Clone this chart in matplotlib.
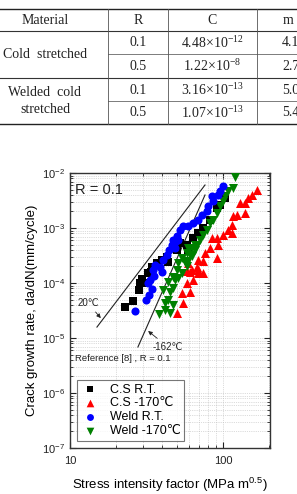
import numpy as np
import matplotlib.pyplot as plt
from matplotlib.lines import Line2D
from matplotlib.ticker import FixedLocator, FixedFormatter

plt.rcParams['font.family'] = ['Liberation Sans', 'DejaVu Sans']

# ---- table data ----
tab_material = ["Cold  stretched", "Welded  cold\nstretched"]
tab_R = ["0.1", "0.5", "0.1", "0.5"]
tab_C_mant = ["4.48", "1.22", "3.16", "1.07"]
tab_C_exp = ["-12", "-8", "-13", "-13"]
tab_m = ["4.10", "2.73", "5.03", "5.42"]

# ---- crack growth data: K (MPa m^0.5), da/dN (mm/cycle) ----
cs_rt_K = [22.9, 25.8, 28.2, 28.7, 30.0, 29.5, 32.3, 33.8, 34.3, 37.0, 39.9, 43.1, 43.7,
           50.0, 52.4, 58.2, 50.0, 59.0, 63.7, 68.7, 74.0, 82.2, 91.4, 95.6, 103]
cs_rt_da = [3.66e-5, 4.71e-5, 7.46e-5, 1.0e-4, 1.0e-4, 1.18e-4, 1.52e-4, 1.58e-4, 1.95e-4,
            2.31e-4, 2.62e-4, 2.97e-4, 2.41e-4, 4.33e-4, 5.33e-4, 4.91e-4, 3.98e-4, 3.82e-4,
            6.58e-4, 8.1e-4, 1.0e-3, 1.40e-3, 2.31e-3, 2.62e-3, 3.51e-3]

cs_lt_K = [50.0, 54.8, 54.0, 58.2, 60.8, 63.7, 60.8, 68.7, 59.0, 67.6, 58.2, 62.7, 68.7,
           74.0, 74.0, 68.7, 76.3, 82.2, 91.4, 84.8, 92.7, 91.4, 100, 115, 108, 115, 116,
           123, 139, 129, 139, 146, 155, 167]
cs_lt_da = [2.85e-5, 4.33e-5, 6.58e-5, 1.0e-4, 6.86e-5, 1.13e-4, 1.58e-4, 1.52e-4, 2.31e-4,
            1.95e-4, 1.65e-4, 1.72e-4, 1.72e-4, 1.52e-4, 2.51e-4, 2.62e-4, 3.51e-4, 4.33e-4,
            2.85e-4, 6.58e-4, 4.91e-4, 6.58e-4, 7.46e-4, 8.1e-4, 9.2e-4, 1.13e-3, 1.65e-3,
            1.72e-3, 1.87e-3, 2.85e-3, 2.85e-3, 3.51e-3, 3.98e-3, 4.91e-3]

w_rt_K = [26.6, 31.4, 32.8, 34.3, 32.3, 33.3, 35.4, 34.9, 35.9, 38.7, 39.9, 40.5, 43.1,
          44.4, 46.4, 48.6, 50.8, 50.0, 52.4, 54.8, 59.0, 63.7, 68.7, 72.9, 78.6, 79.8,
          86.0, 84.8, 92.7, 95.6, 100, 47.1, 48.6]
w_rt_da = [3.10e-5, 4.91e-5, 6.05e-5, 7.78e-5, 1.0e-4, 1.13e-4, 1.34e-4, 1.72e-4, 2.12e-4,
           1.95e-4, 1.58e-4, 2.62e-4, 3.23e-4, 3.98e-4, 4.91e-4, 5.56e-4, 6.05e-4, 7.16e-4,
           9.2e-4, 1.09e-3, 1.09e-3, 1.23e-3, 1.40e-3, 1.72e-3, 2.04e-3, 2.51e-3, 3.10e-3,
           3.82e-3, 3.98e-3, 4.71e-3, 5.8e-3, 6.05e-4, 4.33e-4]

w_lt_K = [38.2, 41.8, 45.0, 41.8, 43.7, 47.1, 40.5, 45.0, 47.1, 43.7, 48.6, 47.1, 50.0,
          50.8, 54.0, 56.4, 58.2, 60.8, 62.7, 59.0, 65.6, 50.8, 54.0, 58.2, 59.0, 62.7,
          65.6, 67.6, 70.7, 74.0, 78.6, 82.2, 86.0, 91.4, 95.6, 100, 103, 108, 116, 120]
w_lt_da = [2.73e-5, 3.23e-5, 2.85e-5, 4.33e-5, 4.91e-5, 3.98e-5, 7.46e-5, 6.86e-5, 8.1e-5,
           1.04e-4, 1.13e-4, 1.29e-4, 1.72e-4, 2.31e-4, 2.85e-4, 2.41e-4, 3.51e-4, 3.23e-4,
           4.33e-4, 4.33e-4, 4.91e-4, 1.23e-4, 1.52e-4, 2.04e-4, 2.51e-4, 3.10e-4, 3.98e-4,
           4.91e-4, 6.05e-4, 7.46e-4, 9.2e-4, 1.23e-3, 1.40e-3, 1.87e-3, 2.51e-3, 3.10e-3,
           3.82e-3, 4.71e-3, 5.33e-3, 8.46e-3]

# reference [8] lines
ref20_K = [15.0, 76.3]
ref20_da = [1.58e-5, 6.05e-3]
ref162_K = [27.8, 76.3]
ref162_da = [6.86e-6, 3.98e-3]

x_ticks = [10, 100]
x_ticklabels = ["10", "100"]

W, H = 297, 494
fig = plt.figure(figsize=(W / 100, H / 100), dpi=100)

# ---- table drawn in figure pixel coords ----
def fx(x): return x / W
def fy(y): return 1 - y / H

def hline(y, x0=0, x1=W, lw=0.8, c='#333333'):
    fig.add_artist(Line2D([fx(x0), fx(x1)], [fy(y), fy(y)], lw=lw, color=c))

def vline(x, y0, y1, lw=0.6, c='#555555'):
    fig.add_artist(Line2D([fx(x), fx(x)], [fy(y0), fy(y1)], lw=lw, color=c))

hline(9, lw=1.0, c='#222222')
hline(31)
hline(54, x0=108, lw=0.6, c='#666666')
hline(78)
hline(101, x0=108, lw=0.6, c='#666666')
hline(124, lw=1.0, c='#222222')
for xv in [108, 168, 257]:
    vline(xv, 9, 124)

tkw = dict(family='Liberation Serif', fontsize=10, ha='center', va='center', color='#222222')
fig.text(fx(45), fy(20), "Material", **tkw)
fig.text(fx(138), fy(20), "R", **tkw)
fig.text(fx(212), fy(20), "C", **tkw)
fig.text(fx(288), fy(20), "m", **tkw)
fig.text(fx(45), fy(55), tab_material[0], **tkw)
fig.text(fx(45), fy(101), tab_material[1], linespacing=1.35, **tkw)
row_y = [43, 66, 90, 113]
for i, ry in enumerate(row_y):
    fig.text(fx(138), fy(ry), tab_R[i], **tkw)
    fig.text(fx(212), fy(ry), tab_C_mant[i] + "\u00d710$^{\\mathregular{" + tab_C_exp[i] + "}}$", **tkw)
    fig.text(fx(282), fy(ry), tab_m[i], family='Liberation Serif', fontsize=10,
             ha='left', va='center', color='#222222')

# ---- chart ----
ax = fig.add_axes([70 / W, 1 - 448 / H, 200 / W, 275 / H])
ms = 34
ax.scatter(cs_rt_K, cs_rt_da, marker='s', c='black', s=ms, lw=0, label='C.S R.T.', zorder=3)
ax.scatter(cs_lt_K, cs_lt_da, marker='^', c='#ff0000', s=ms + 8, lw=0, label='C.S -170\u2103', zorder=3)
ax.scatter(w_rt_K, w_rt_da, marker='o', c='#0000ff', s=ms, lw=0, label='Weld R.T.', zorder=4)
ax.scatter(w_lt_K, w_lt_da, marker='v', c='#008000', s=ms + 8, lw=0, label='Weld -170\u2103', zorder=3)
ax.plot(ref20_K, ref20_da, color='#222222', lw=0.8, zorder=2)
ax.plot(ref162_K, ref162_da, color='#222222', lw=0.8, zorder=2)

ax.annotate("20\u2103", xy=(15.9, 2.3e-5), xytext=(13.1, 4.3e-5), fontsize=7,
            ha='center', va='center', color='#222222',
            arrowprops=dict(arrowstyle='-|>', color='#222222', lw=0.6, mutation_scale=6,
                            shrinkA=1, shrinkB=0))
ax.annotate("-162\u2103", xy=(32.4, 1.34e-5), xytext=(43.7, 6.86e-6), fontsize=7,
            ha='center', va='center', color='#222222',
            arrowprops=dict(arrowstyle='-|>', color='#222222', lw=0.6, mutation_scale=6,
                            shrinkA=1, shrinkB=0))
ax.text(0.025, 0.325, "Reference [8] , R = 0.1", transform=ax.transAxes, fontsize=6.8,
        ha='left', va='center', color='#222222')
ax.text(0.025, 0.965, "R = 0.1", transform=ax.transAxes, fontsize=10.5,
        ha='left', va='top', color='#222222')

ax.set_xscale('log')
ax.set_yscale('log')
ax.set_xlim(10, 203)
ax.set_ylim(1e-7, 1e-2)
ax.xaxis.set_major_locator(FixedLocator(x_ticks))
ax.xaxis.set_major_formatter(FixedFormatter(x_ticklabels))
ax.grid(True, which='both', ls=':', lw=0.5, color='#bbbbbb')
ax.tick_params(which='both', direction='in', top=True, right=True, labelsize=8, colors='#222222')
ax.tick_params(which='major', length=4, width=0.8)
ax.tick_params(which='minor', length=2, width=0.6)
ax.tick_params(axis='x', pad=6)
for sp in ax.spines.values():
    sp.set_linewidth(1.0)
    sp.set_color('#333333')
ax.set_xlabel("Stress intensity factor (MPa m$^{\\mathregular{0.5}}$)", fontsize=9.5, labelpad=7)
ax.set_ylabel("Crack growth rate, da/dN(mm/cycle)", fontsize=9.5, labelpad=3)

leg = ax.legend(loc='lower left', bbox_to_anchor=(0.005, 0.003), fontsize=9, frameon=True,
                fancybox=False, edgecolor='#555555', labelspacing=0.15, handletextpad=0.8,
                borderpad=0.3, handlelength=1.5, markerscale=0.85)
leg.get_frame().set_linewidth(0.8)

fig.savefig("out.png", dpi=100)
